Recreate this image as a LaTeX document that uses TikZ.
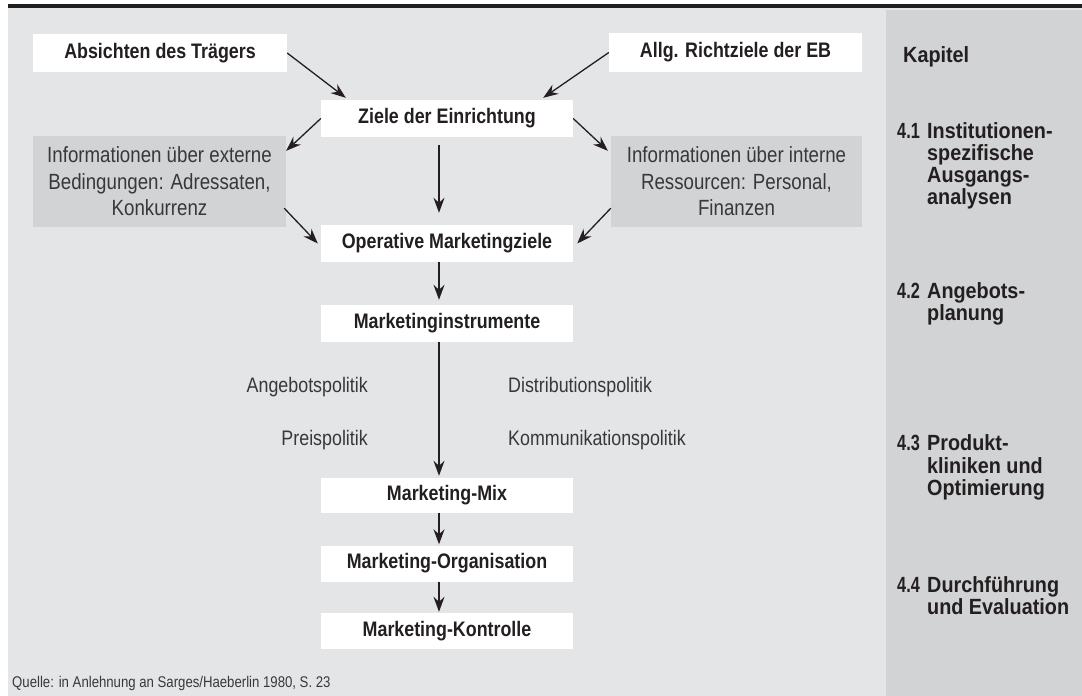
\documentclass[tikz,border=0pt]{standalone}
\usepackage{fontspec}
\setmainfont{Liberation Sans}
\newfontfamily\condreg{Liberation Sans}[FakeStretch=0.85]
\newfontfamily\condbf{Liberation Sans}[FakeStretch=0.85]
\newfontfamily\panelbf{Liberation Sans}[FakeStretch=0.9]
\newfontfamily\numbf{Liberation Sans}[FakeStretch=0.74]
\usetikzlibrary{arrows.meta}
\definecolor{bg}{HTML}{E4E5E6}
\definecolor{panel}{HTML}{D2D3D5}
\definecolor{ink}{HTML}{231F20}
\definecolor{soft}{HTML}{38383A}
\begin{document}
\begin{tikzpicture}[x=1pt,y=-1pt,
  mainbox/.style={fill=white, minimum width=252pt, minimum height=37pt, inner sep=0pt, text=ink, font=\condbf\bfseries\fontsize{21}{25}\selectfont},
  infobox/.style={fill=panel, minimum width=253pt, minimum height=91pt, inner sep=0pt, align=center, text=soft, font=\condreg\fontsize{22}{26.5}\selectfont},
  pol/.style={inner sep=0pt, text=soft, font=\condreg\fontsize{21}{25}\selectfont},
  ptext/.style={inner sep=0pt, anchor=base west, text=ink, font=\panelbf\bfseries\fontsize{22}{22}\selectfont},
  pnum/.style={inner sep=0pt, anchor=base west, text=ink, font=\numbf\bfseries\fontsize{22}{22}\selectfont},
  arr/.style={draw=ink, line width=1.3pt, -{Stealth[length=15pt,width=11pt,inset=5pt]}}
]
\useasboundingbox (0,0) rectangle (1082,696);
\fill[bg] (8,7) rectangle (1082,696);
\fill[panel] (886,10) rectangle (1082,696);
\fill[black!88] (8,4) rectangle (1082,7.5);

% boxes
\node[mainbox, minimum width=254pt, minimum height=38pt] (absichten) at (160,53) {Absichten des Trägers};
\node[mainbox, minimum width=253pt, minimum height=39pt] (allg) at (735.5,52.5) {Allg. Richtziele der EB};
\node[mainbox] (ziele) at (447,118.5) {Ziele der Einrichtung};
\node[infobox] (ext) at (159.5,181.5) {Informationen über externe\\Bedingungen: Adressaten,\\Konkurrenz};
\node[infobox, minimum width=251pt] (int) at (736.5,181.5) {Informationen über interne\\Ressourcen: Personal,\\Finanzen};
\node[mainbox] (oper) at (447,243.5) {Operative Marketingziele};
\node[mainbox] (instr) at (447,323.5) {Marketinginstrumente};
\node[mainbox, minimum height=35pt] (mix) at (447,495) {Marketing-Mix};
\node[mainbox, minimum height=36pt] (orga) at (447,563.5) {Marketing-Organisation};
\node[mainbox, minimum height=36pt] (kontr) at (447,631) {Marketing-Kontrolle};

% policies
\node[pol, anchor=base east] (angebot) at (368,392) {Angebotspolitik};
\node[pol, anchor=base east] (preis) at (368,445) {Preispolitik};
\node[pol, anchor=base west] (distr) at (508,392) {Distributionspolitik};
\node[pol, anchor=base west] (komm) at (508,445) {Kommunikationspolitik};

% arrows
\draw[arr] (absichten.east) -- ([xshift=25pt,yshift=2pt]ziele.north west);
\draw[arr] (allg.west) -- ([xshift=-30pt,yshift=2pt]ziele.north east);
\draw[arr] (ziele.west) -- ([yshift=-15pt]ext.north east);
\draw[arr] (ziele.east) -- ([xshift=-3pt,yshift=-15pt]int.north west);
\draw[arr] ([xshift=-8pt,yshift=-8pt]ziele.south) -- ([xshift=-8pt,yshift=12pt]oper.north);
\draw[arr] ([xshift=-2pt,yshift=19pt]ext.south east) -- ([xshift=-3pt]oper.west);
\draw[arr] ([yshift=19pt]int.south west) -- ([xshift=4pt]oper.east);
\draw[arr] ([xshift=-8pt]oper.south) -- ([xshift=-8pt,yshift=5pt]instr.north);
\draw[arr] ([xshift=-8pt]instr.south) -- ([xshift=-8pt,yshift=1.5pt]mix.north);
\draw[arr] ([xshift=-8pt]mix.south) -- ([xshift=-8pt,yshift=1pt]orga.north);
\draw[arr] ([xshift=-8pt]orga.south) -- ([xshift=-8pt,yshift=1pt]kontr.north);

% chapter panel
\node[ptext] (kap) at (903,62) {Kapitel};
\node[pnum] (n41) at (897,138) {4.1};
\node[ptext] (t41a) at (927,138) {Institutionen-};
\node[ptext] (t41b) at (927,160) {spezifische};
\node[ptext] (t41c) at (927,182) {Ausgangs-};
\node[ptext] (t41d) at (927,204) {analysen};
\node[pnum] (n42) at (897,298) {4.2};
\node[ptext] (t42a) at (927,298) {Angebots-};
\node[ptext] (t42b) at (927,320) {planung};
\node[pnum] (n43) at (897,450) {4.3};
\node[ptext] (t43a) at (927,450) {Produkt-};
\node[ptext] (t43b) at (927,473) {kliniken und};
\node[ptext] (t43c) at (927,495) {Optimierung};
\node[pnum] (n44) at (897,592) {4.4};
\node[ptext] (t44a) at (927,592) {Durchführung};
\node[ptext] (t44b) at (927,614) {und Evaluation};

% source
\node[inner sep=0pt, anchor=base west, text=soft, font=\condreg\fontsize{15.5}{17}\selectfont] (quelle) at (12,687) {Quelle: in Anlehnung an Sarges/Haeberlin 1980, S. 23};
\end{tikzpicture}
\end{document}
